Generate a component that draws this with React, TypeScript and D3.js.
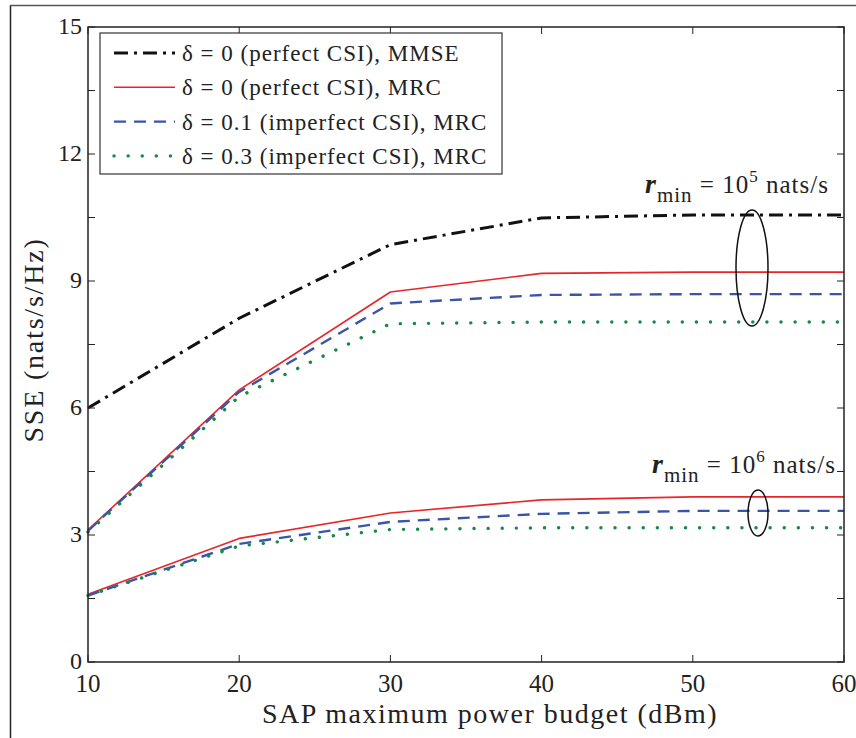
import * as d3 from "d3";

// SAP maximum power budget (dBm)
const power = [10, 20, 30, 40, 50, 60];

// r_min = 10^5 nats/s
const mmse5 = [6.0, 8.12, 9.86, 10.49, 10.56, 10.56];
const mrc5 = [3.12, 6.43, 8.74, 9.18, 9.21, 9.21];
const imp01_5 = [3.1, 6.38, 8.47, 8.67, 8.69, 8.69];
const imp03_5 = [3.07, 6.27, 7.99, 8.03, 8.03, 8.03];

// r_min = 10^6 nats/s
const mrc6 = [1.6, 2.92, 3.52, 3.83, 3.9, 3.9];
const imp01_6 = [1.57, 2.79, 3.31, 3.5, 3.57, 3.57];
const imp03_6 = [1.57, 2.74, 3.13, 3.17, 3.17, 3.17];

const xTicks = [10, 20, 30, 40, 50, 60];
const yTicks = [0, 3, 6, 9, 12, 15];
const yMinorTicks = [1.5, 4.5, 7.5, 10.5, 13.5];

const legendLabels = [
  "δ = 0 (perfect CSI), MMSE",
  "δ = 0 (perfect CSI), MRC",
  "δ = 0.1 (imperfect CSI), MRC",
  "δ = 0.3 (imperfect CSI), MRC",
];

const styles = [
  { stroke: "#111", width: 3, dash: "14 6 3 6", cap: "butt" },
  { stroke: "#e8262a", width: 1.6, dash: "", cap: "butt" },
  { stroke: "#3a55a8", width: 2.4, dash: "12 8", cap: "butt" },
  { stroke: "#15884a", width: 3.4, dash: "0.1 14", cap: "round" },
];

const series = [
  { values: mmse5, style: 0 },
  { values: mrc5, style: 1 },
  { values: imp01_5, style: 2 },
  { values: imp03_5, style: 3 },
  { values: mrc6, style: 1 },
  { values: imp01_6, style: 2 },
  { values: imp03_6, style: 3 },
];

const W = 856;
const H = 738;
const left = 88;
const right = 844;
const top = 27;
const bottom = 662;
const font = "Liberation Serif";

export default function App() {
  const x = d3.scaleLinear().domain([10, 60]).range([left, right]);
  const y = d3.scaleLinear().domain([0, 15]).range([bottom, top]);
  const line = d3
    .line<number>()
    .x((_, i) => x(power[i]))
    .y((d) => y(d));

  const tick = 7;

  return (
    <svg
      width={W}
      height={H}
      style={{ position: "absolute", left: 0, top: 0, background: "#fff", fontFamily: font }}
    >
      <rect width={W} height={H} fill="#fff" />
      {/* outer frame */}
      <line x1={10.5} y1={5} x2={10.5} y2={H} stroke="#222" strokeWidth={1.5} />
      <line x1={10} y1={5.5} x2={W} y2={5.5} stroke="#555" strokeWidth={1.5} />

      {/* data lines */}
      {series.map((s, i) => {
        const st = styles[s.style];
        return (
          <path
            key={i}
            d={line(s.values) || ""}
            fill="none"
            stroke={st.stroke}
            strokeWidth={st.width}
            strokeDasharray={st.dash}
            strokeLinecap={st.cap as any}
            strokeLinejoin="round"
          />
        );
      })}

      {/* axes box */}
      <rect
        x={left}
        y={top}
        width={right - left}
        height={bottom - top}
        fill="none"
        stroke="#222"
        strokeWidth={1.5}
      />
      {xTicks.map((t) => (
        <g key={"x" + t}>
          <line x1={x(t)} x2={x(t)} y1={bottom} y2={bottom - tick} stroke="#222" />
          <line x1={x(t)} x2={x(t)} y1={top} y2={top + tick} stroke="#222" />
          <text x={x(t)} y={692} textAnchor="middle" fontSize={25} fill="#222">
            {t}
          </text>
        </g>
      ))}
      {yTicks.concat(yMinorTicks).map((t) => (
        <g key={"y" + t}>
          <line x1={left} x2={left + tick} y1={y(t)} y2={y(t)} stroke="#222" />
          <line x1={right} x2={right - tick} y1={y(t)} y2={y(t)} stroke="#222" />
        </g>
      ))}
      {yTicks.map((t) => (
        <text
          key={"yl" + t}
          x={left - 6}
          y={y(t) + 7}
          textAnchor="end"
          fontSize={24}
          fill="#222"
        >
          {t}
        </text>
      ))}
      <text
        x={490}
        y={723}
        textAnchor="middle"
        fontSize={28}
        letterSpacing={1.5}
        fill="#222"
      >
        SAP maximum power budget (dBm)
      </text>
      <text
        transform={`translate(43,340) rotate(-90)`}
        textAnchor="middle"
        fontSize={28}
        letterSpacing={1.8}
        fill="#222"
      >
        SSE (nats/s/Hz)
      </text>

      {/* legend */}
      <rect x={100} y={33} width={402} height={141} fill="#fff" stroke="#333" strokeWidth={1.2} />
      {legendLabels.map((lab, i) => {
        const st = styles[i];
        const ly = 53 + i * 34.3;
        return (
          <g key={lab}>
            <line
              x1={114}
              x2={175}
              y1={ly}
              y2={ly}
              stroke={st.stroke}
              strokeWidth={st.width}
              strokeDasharray={st.dash}
              strokeLinecap={st.cap as any}
            />
            <text x={182} y={ly + 8} fontSize={23} letterSpacing={1} fill="#222">
              {lab}
            </text>
          </g>
        );
      })}

      {/* annotations */}
      <ellipse cx={752} cy={268} rx={16} ry={58} fill="none" stroke="#111" strokeWidth={1.5} />
      <ellipse cx={758} cy={513} rx={10} ry={23} fill="none" stroke="#111" strokeWidth={1.5} />
      <text x={645} y={193} fontSize={25} letterSpacing={1} fill="#222">
        <tspan fontStyle="italic" fontWeight="bold" fontSize={28}>r</tspan>
        <tspan fontSize={21} dy={9}>min</tspan>
        <tspan dy={-9}> = 10</tspan>
        <tspan fontSize={17} dy={-11}>5</tspan>
        <tspan dy={11}> nats/s</tspan>
      </text>
      <text x={652} y={473} fontSize={25} letterSpacing={1} fill="#222">
        <tspan fontStyle="italic" fontWeight="bold" fontSize={28}>r</tspan>
        <tspan fontSize={21} dy={9}>min</tspan>
        <tspan dy={-9}> = 10</tspan>
        <tspan fontSize={17} dy={-11}>6</tspan>
        <tspan dy={11}> nats/s</tspan>
      </text>
    </svg>
  );
}
